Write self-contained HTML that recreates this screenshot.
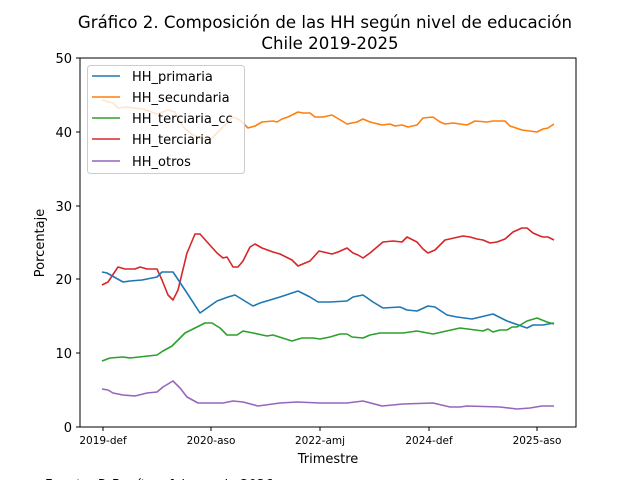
<!DOCTYPE html>
<html><head><meta charset="utf-8"><style>
body{margin:0;background:#fff;}
svg text{font-family:"DejaVu Sans","Liberation Sans",sans-serif;fill:#000;}
</style></head><body>
<svg width="640" height="480" viewBox="0 0 640 480" xmlns="http://www.w3.org/2000/svg">
<rect width="640" height="480" fill="#fff"/>
<text x="325" y="28" font-size="16.6" text-anchor="middle">Gráfico 2. Composición de las HH según nivel de educación</text>
<text x="330" y="49" font-size="16.6" text-anchor="middle">Chile 2019-2025</text>
<g fill="none" stroke-width="1.6" stroke-linejoin="round">
<polyline stroke="#ff7f0e" points="102,100 113,103 118,108 125,107 143,109 157,114 168,110 175,112 183,127 193,135 200,138 210,140 220,130 233,117 240,120 248,128 255,126 262,122 273,121 277,122 282,119 288,117 298,112 303,113 310,113 315,117 323,117 332,115 337,118 347,124 357,122 363,119 370,122 382,125 390,124 395,126 402,125 408,127 417,125 423,118 433,117 440,122 445,124 453,123 467,125 475,121 487,122 493,121 505,121 510,126 522,130 537,132 543,129 548,128 554,124"/>
<polyline stroke="#d62728" points="102,285 108,282 118,267 125,269 135,269 140,267 147,269 157,269 162,280 168,295 173,300 178,290 187,253 195,234 200,234 208,243 217,253 223,258 227,257 233,267 238,267 243,261 250,247 255,244 262,248 273,252 280,254 292,260 298,266 310,261 319,251 332,254 338,252 347,248 353,253 358,255 363,258 370,253 383,242 393,241 402,242 407,237 417,242 423,249 428,253 435,250 445,240 463,236 470,237 477,239 483,240 490,243 497,242 505,239 513,232 522,228 527,228 533,233 540,236 543,237 548,237 554,240"/>
<polyline stroke="#1f77b4" points="102,272 107,273 123,282 130,281 142,280 147,279 157,277 162,272 173,272 187,293 200,313 217,301 228,297 235,295 253,306 260,303 280,297 298,291 310,297 318,302 330,302 347,301 353,297 363,295 373,302 383,308 400,307 407,310 417,311 428,306 435,307 447,315 457,317 472,319 493,314 507,321 527,328 533,325 543,325 554,323"/>
<polyline stroke="#2ca02c" points="102,361 110,358 123,357 130,358 157,355 163,351 172,346 185,333 195,328 205,323 212,323 220,328 227,335 237,335 243,331 253,333 267,336 273,335 292,341 302,338 313,338 320,339 330,337 340,334 347,334 352,337 363,338 370,335 380,333 403,333 417,331 433,334 460,328 483,331 488,329 493,332 500,330 507,330 512,327 517,327 527,321 537,318 547,322 554,324"/>
<polyline stroke="#9467bd" points="102,389 108,390 113,393 123,395 135,396 147,393 157,392 163,387 173,381 180,388 187,397 198,403 213,403 223,403 233,401 243,402 258,406 280,403 297,402 320,403 347,403 363,401 382,406 403,404 433,403 450,407 460,407 467,406 500,407 517,409 530,408 542,406 554,406"/>
</g>
<rect x="80" y="58" width="496" height="369" fill="none" stroke="#000" stroke-width="1"/>
<g stroke="#000">
<line x1="76" y1="427" x2="80" y2="427"/><line x1="76" y1="353" x2="80" y2="353"/><line x1="76" y1="279" x2="80" y2="279"/><line x1="76" y1="206" x2="80" y2="206"/><line x1="76" y1="132" x2="80" y2="132"/><line x1="76" y1="58" x2="80" y2="58"/>
<line x1="103" y1="427" x2="103" y2="431"/><line x1="211" y1="427" x2="211" y2="431"/><line x1="320" y1="427" x2="320" y2="431"/><line x1="429" y1="427" x2="429" y2="431"/><line x1="537" y1="427" x2="537" y2="431"/>
</g>
<g font-size="13" text-anchor="end">
<text x="72" y="432">0</text><text x="72" y="358">10</text><text x="72" y="284">20</text><text x="72" y="211">30</text><text x="72" y="137">40</text><text x="72" y="63">50</text>
</g>
<g font-size="10.5" text-anchor="middle">
<text x="103" y="444">2019-def</text><text x="211" y="444">2020-aso</text><text x="320" y="444">2022-amj</text><text x="429" y="444">2024-def</text><text x="537" y="444">2025-aso</text>
</g>
<text x="328" y="463" font-size="13" text-anchor="middle">Trimestre</text>
<text transform="translate(44,243) rotate(-90)" font-size="13" text-anchor="middle">Porcentaje</text>
<text x="45" y="489" font-size="13">Fuente: P. Benítez, febrero de 2026</text>
<rect x="87.5" y="65.5" width="157" height="108" rx="3" fill="#fff" fill-opacity="0.8" stroke="#ccc"/>
<g stroke-width="1.5">
<line x1="92" y1="76" x2="120" y2="76" stroke="#1f77b4"/>
<line x1="92" y1="97" x2="120" y2="97" stroke="#ff7f0e"/>
<line x1="92" y1="118" x2="120" y2="118" stroke="#2ca02c"/>
<line x1="92" y1="139" x2="120" y2="139" stroke="#d62728"/>
<line x1="92" y1="161" x2="120" y2="161" stroke="#9467bd"/>
</g>
<g font-size="13">
<text x="132" y="81">HH_primaria</text><text x="132" y="102">HH_secundaria</text><text x="132" y="123">HH_terciaria_cc</text><text x="132" y="144">HH_terciaria</text><text x="132" y="166">HH_otros</text>
</g>
</svg>
</body></html>
